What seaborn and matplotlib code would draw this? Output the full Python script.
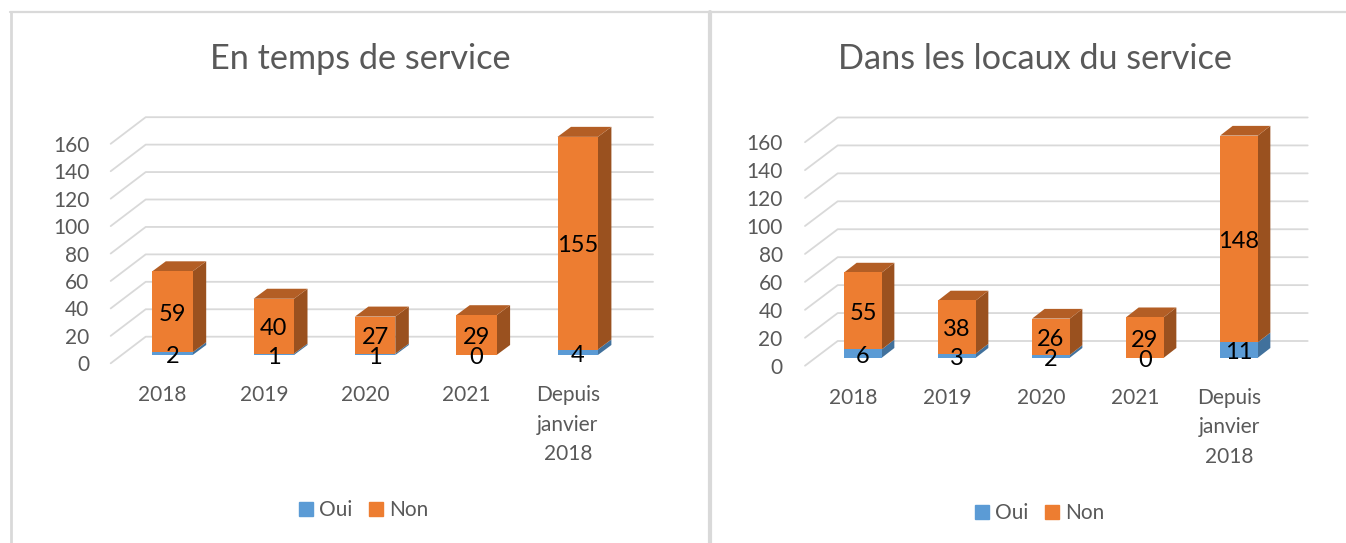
import matplotlib
matplotlib.use("Agg")
import matplotlib.pyplot as plt
import seaborn as sns
from matplotlib.lines import Line2D
from matplotlib.patches import Patch
from matplotlib.transforms import Affine2D

categories = ["2018", "2019", "2020", "2021", "Depuis\njanvier\n2018"]
oui_temps = [2, 1, 1, 0, 4]
non_temps = [59, 40, 27, 29, 155]
oui_locaux = [6, 3, 2, 0, 11]
non_locaux = [55, 38, 26, 29, 148]
y_ticks = [0, 20, 40, 60, 80, 100, 120, 140, 160]

BLUE = "#5B9BD5"
ORANGE = "#ED7D31"
BLUE_SIDE = "#41719C"
ORANGE_SIDE = "#9A511F"
ORANGE_TOP = "#B35E25"
GRID = "#D9D9D9"
GREY = "#595959"
W, H = 1346, 543

sns.set_theme(style="white")
plt.rcParams["font.family"] = ["Lato", "DejaVu Sans"]


def draw_panel(fig, title, oui, non, g):
    # g holds the pixel geometry of one panel, y measured from the top
    left = g["x0"] - 0.5 * g["step"]
    height = 160 * g["scale"]
    ax = fig.add_axes([left / W, (H - g["base"]) / H, 5 * g["step"] / W, height / H])
    ax.patch.set_alpha(0)

    px = lambda v: v / g["step"]
    py = lambda v: v / g["scale"]
    depth_x, depth_y = px(g["dx"]), py(g["dy"])

    # 3D looking grid: front edge, then along the back wall
    for v in y_ticks:
        xs = [px(g["front_x"] - g["x0"]), px(g["back_x"] - g["x0"]), px(g["end_x"] - g["x0"])]
        back = v + py(g["back_up"])
        ys = [v - py(g["front_down"]), back, back]
        ax.plot(xs, ys, color=GRID, lw=1.3, clip_on=False, zorder=1)

    bar_w = g["width"] / g["step"]
    sns.barplot(x=categories, y=oui, order=categories, color=BLUE, saturation=1,
                width=bar_w, linewidth=0, ax=ax, zorder=3)
    sns.barplot(x=categories, y=non, order=categories, color=ORANGE, saturation=1,
                width=bar_w, linewidth=0, bottom=oui, ax=ax, zorder=3)

    # side and top faces from the bars seaborn drew
    for cont, side in zip(ax.containers, [BLUE_SIDE, ORANGE_SIDE]):
        for p in cont.patches:
            x1 = p.get_x() + p.get_width()
            y0, y1 = p.get_y(), p.get_y() + p.get_height()
            ax.fill([x1, x1 + depth_x, x1 + depth_x, x1],
                    [y0, y0 + depth_y, y1 + depth_y, y1],
                    color=side, lw=0, clip_on=False, zorder=2.5)
    for p in ax.containers[1].patches:
        x0, x1 = p.get_x(), p.get_x() + p.get_width()
        y1 = p.get_y() + p.get_height()
        ax.fill([x0, x1, x1 + depth_x, x0 + depth_x],
                [y1, y1, y1 + depth_y, y1 + depth_y],
                color=ORANGE_TOP, lw=0, clip_on=False, zorder=2.5)

    for cont in ax.containers:
        for t in ax.bar_label(cont, label_type="center", fontsize=g["lab_fs"], color="black", zorder=6):
            t.xyann = (0, g["lab_shift"])

    ax.set_xlim(-0.5, 4.5)
    ax.set_ylim(0, 160)
    sns.despine(ax=ax, left=True, bottom=True)
    ax.set_xlabel("")
    ax.set_ylabel("")
    ax.set_yticks(y_ticks)
    ax.tick_params(axis="y", length=0, pad=g["ypad"], labelsize=g["tick_fs"], labelcolor=GREY)
    ax.tick_params(axis="x", length=0, pad=g["xpad"], labelsize=g["cat_fs"], labelcolor=GREY)
    ax.set_xticks(range(len(categories)))
    ax.set_xticklabels(categories, linespacing=1.6)
    for lab in ax.get_yticklabels():
        lab.set_transform(lab.get_transform() + Affine2D().translate(0, -g["front_down"]))
    for lab in ax.get_xticklabels():
        lab.set_transform(lab.get_transform() + Affine2D().translate(-10, 0))

    fig.text(g["title_x"] / W, 1 - 59 / H, title, ha="center", va="center",
             fontsize=g["title_fs"], color=GREY)

    handles = [Patch(color=BLUE, label="Oui"), Patch(color=ORANGE, label="Non")]
    fig.legend(handles=handles, loc="center", bbox_to_anchor=(g["leg_x"] / W, 1 - g["leg_y"] / H),
               ncol=2, frameon=False, fontsize=g["leg_fs"], labelcolor=GREY,
               handlelength=0.67, handleheight=0.67, handletextpad=0.3, columnspacing=0.8)
    return ax


fig = plt.figure(figsize=(W / 100, H / 100), dpi=100, facecolor="white")

geo_left = dict(x0=172.5, step=101.3, width=40.4, base=355, scale=1.372, dx=13.5, dy=10,
                front_x=110.7, back_x=145.7, end_x=653, front_down=8.3, back_up=18.3,
                ypad=23.4, xpad=21.7, title_x=360, leg_x=364, leg_y=510, lab_shift=-2,
                title_fs=24.7, tick_fs=15, cat_fs=15, lab_fs=17, leg_fs=15)
geo_right = dict(x0=863, step=94, width=37.7, base=357.7, scale=1.397, dx=12.5, dy=9.7,
                 front_x=805, back_x=837.7, end_x=1307.7, front_down=8, back_up=16.7,
                 ypad=24, xpad=21.7, title_x=1035, leg_x=1040, leg_y=513, lab_shift=-2,
                 title_fs=24.7, tick_fs=15, cat_fs=15, lab_fs=17, leg_fs=15)

draw_panel(fig, "En temps de service", oui_temps, non_temps, geo_left)
draw_panel(fig, "Dans les locaux du service", oui_locaux, non_locaux, geo_right)

# chart frames, cut off by the screenshot on the other sides
for xs, ys, lw in [([11, 11], [12, 543], 2.0), ([10, 1346], [12, 12], 1.6), ([710, 710], [12, 543], 3.0)]:
    fig.add_artist(Line2D([x / W for x in xs], [1 - y / H for y in ys], color=GRID, lw=lw))

fig.savefig("out.png", dpi=100)
